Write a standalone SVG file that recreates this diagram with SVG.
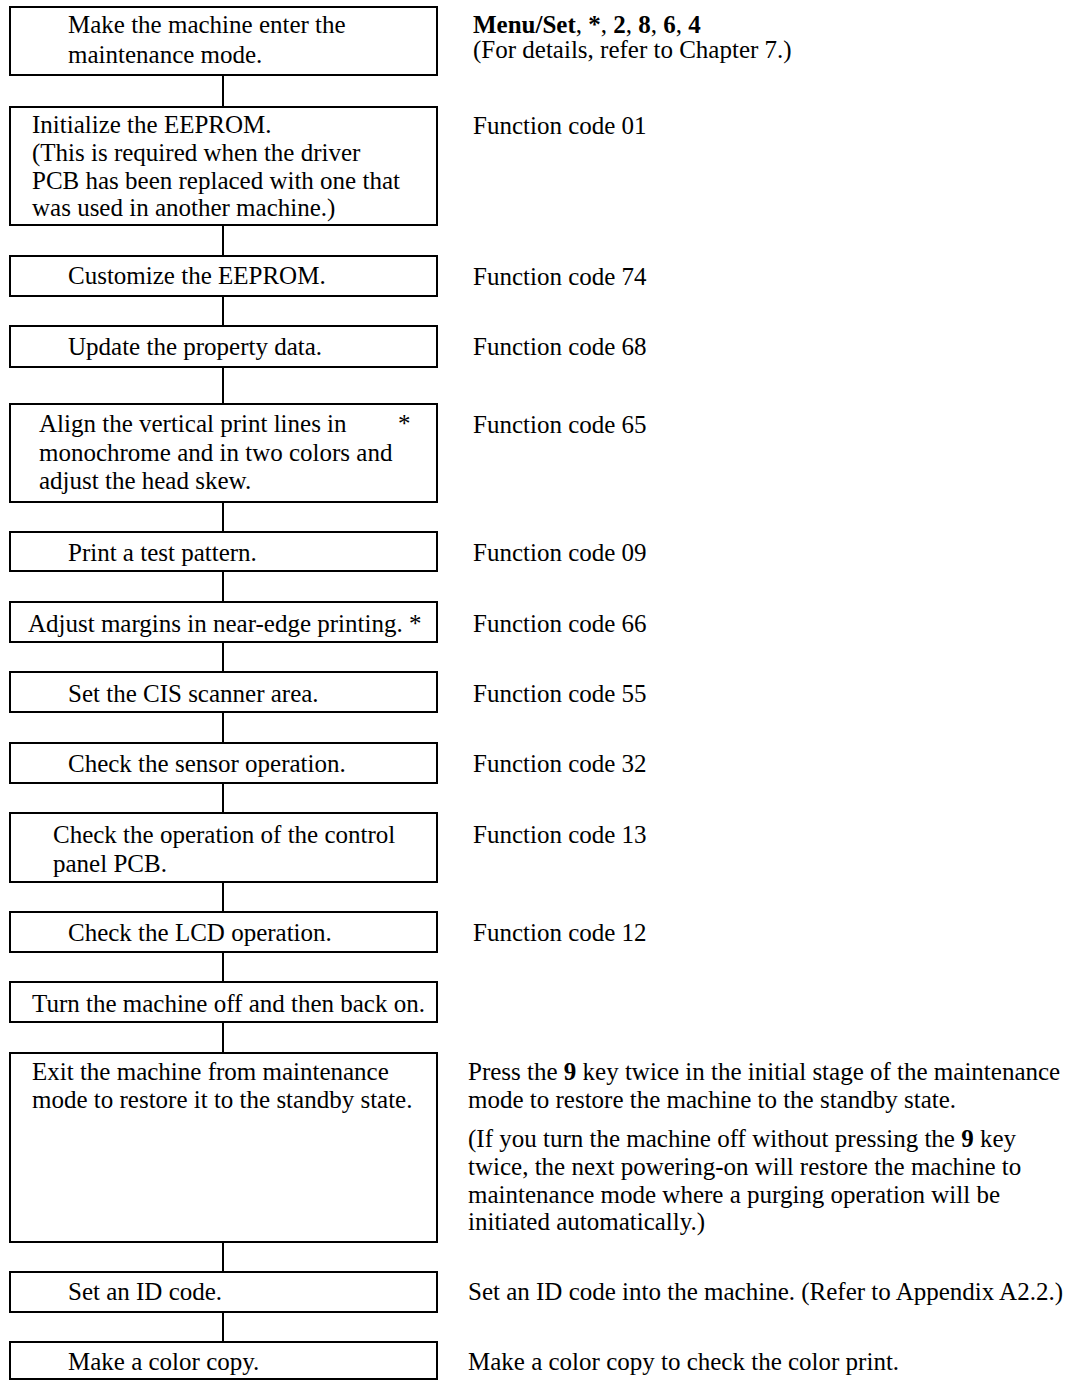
<svg xmlns="http://www.w3.org/2000/svg" width="1077" height="1380" viewBox="0 0 1077 1380">
  <style>
    text { font-family: "Liberation Serif", "Times New Roman", serif; font-size: 25px; fill: #000; }
    .b { font-weight: bold; }
    .box { fill: #fff; stroke: #000; stroke-width: 2; }
    .link { stroke: #000; stroke-width: 2; fill: none; }
  </style>
  <rect width="1077" height="1380" fill="#fff"/>

  <!-- vertical connectors between the steps -->
  <g id="connectors">
    <line class="link" x1="223" y1="75" x2="223" y2="107"/>
    <line class="link" x1="223" y1="225" x2="223" y2="256"/>
    <line class="link" x1="223" y1="296" x2="223" y2="326"/>
    <line class="link" x1="223" y1="367" x2="223" y2="404"/>
    <line class="link" x1="223" y1="502" x2="223" y2="532"/>
    <line class="link" x1="223" y1="571" x2="223" y2="602"/>
    <line class="link" x1="223" y1="642" x2="223" y2="672"/>
    <line class="link" x1="223" y1="712" x2="223" y2="743"/>
    <line class="link" x1="223" y1="783" x2="223" y2="813"/>
    <line class="link" x1="223" y1="882" x2="223" y2="912"/>
    <line class="link" x1="223" y1="952" x2="223" y2="982"/>
    <line class="link" x1="223" y1="1022" x2="223" y2="1053"/>
    <line class="link" x1="223" y1="1242" x2="223" y2="1272"/>
    <line class="link" x1="223" y1="1312" x2="223" y2="1342"/>
  </g>

  <g id="step-maintenance-mode">
    <rect class="box" x="10" y="7" width="427" height="68"/>
    <text x="68" y="33">Make the machine enter the</text>
    <text x="68" y="63">maintenance mode.</text>
    <text x="473" y="33"><tspan class="b">Menu/Set</tspan>, <tspan class="b">*</tspan>, <tspan class="b">2</tspan>, <tspan class="b">8</tspan>, <tspan class="b">6</tspan>, <tspan class="b">4</tspan></text>
    <text x="473" y="58">(For details, refer to Chapter 7.)</text>
  </g>

  <g id="step-init-eeprom">
    <rect class="box" x="10" y="107" width="427" height="118"/>
    <text x="32" y="133">Initialize the EEPROM.</text>
    <text x="32" y="161">(This is required when the driver</text>
    <text x="32" y="189">PCB has been replaced with one that</text>
    <text x="32" y="216">was used in another machine.)</text>
    <text x="473" y="134">Function code 01</text>
  </g>

  <g id="step-customize">
    <rect class="box" x="10" y="256" width="427" height="40"/>
    <text x="68" y="284">Customize the EEPROM.</text>
    <text x="473" y="285">Function code 74</text>
  </g>

  <g id="step-property">
    <rect class="box" x="10" y="326" width="427" height="41"/>
    <text x="68" y="355">Update the property data.</text>
    <text x="473" y="355">Function code 68</text>
  </g>

  <g id="step-align">
    <rect class="box" x="10" y="404" width="427" height="98"/>
    <text x="39" y="432">Align the vertical print lines in</text>
    <text x="398" y="432">*</text>
    <text x="39" y="461">monochrome and in two colors and</text>
    <text x="39" y="489">adjust the head skew.</text>
    <text x="473" y="433">Function code 65</text>
  </g>

  <g id="step-test-pattern">
    <rect class="box" x="10" y="532" width="427" height="39"/>
    <text x="68" y="561">Print a test pattern.</text>
    <text x="473" y="561">Function code 09</text>
  </g>

  <g id="step-margins">
    <rect class="box" x="10" y="602" width="427" height="40"/>
    <text x="28" y="632">Adjust margins in near-edge printing. *</text>
    <text x="473" y="632">Function code 66</text>
  </g>

  <g id="step-cis">
    <rect class="box" x="10" y="672" width="427" height="40"/>
    <text x="68" y="702">Set the CIS scanner area.</text>
    <text x="473" y="702">Function code 55</text>
  </g>

  <g id="step-sensor">
    <rect class="box" x="10" y="743" width="427" height="40"/>
    <text x="68" y="772">Check the sensor operation.</text>
    <text x="473" y="772">Function code 32</text>
  </g>

  <g id="step-panel">
    <rect class="box" x="10" y="813" width="427" height="69"/>
    <text x="53" y="843">Check the operation of the control</text>
    <text x="53" y="872">panel PCB.</text>
    <text x="473" y="843">Function code 13</text>
  </g>

  <g id="step-lcd">
    <rect class="box" x="10" y="912" width="427" height="40"/>
    <text x="68" y="941">Check the LCD operation.</text>
    <text x="473" y="941">Function code 12</text>
  </g>

  <g id="step-power-cycle">
    <rect class="box" x="10" y="982" width="427" height="40"/>
    <text x="32" y="1012">Turn the machine off and then back on.</text>
  </g>

  <g id="step-exit">
    <rect class="box" x="10" y="1053" width="427" height="189"/>
    <text x="32" y="1080">Exit the machine from maintenance</text>
    <text x="32" y="1108">mode to restore it to the standby state.</text>
    <text x="468" y="1080">Press the <tspan class="b">9</tspan> key twice in the initial stage of the maintenance</text>
    <text x="468" y="1108">mode to restore the machine to the standby state.</text>
    <text x="468" y="1147">(If you turn the machine off without pressing the <tspan class="b">9</tspan> key</text>
    <text x="468" y="1175">twice, the next powering-on will restore the machine to</text>
    <text x="468" y="1203">maintenance mode where a purging operation will be</text>
    <text x="468" y="1230">initiated automatically.)</text>
  </g>

  <g id="step-id-code">
    <rect class="box" x="10" y="1272" width="427" height="40"/>
    <text x="68" y="1300">Set an ID code.</text>
    <text x="468" y="1300">Set an ID code into the machine. (Refer to Appendix A2.2.)</text>
  </g>

  <g id="step-color-copy">
    <rect class="box" x="10" y="1342" width="427" height="37"/>
    <text x="68" y="1370">Make a color copy.</text>
    <text x="468" y="1370">Make a color copy to check the color print.</text>
  </g>
</svg>
